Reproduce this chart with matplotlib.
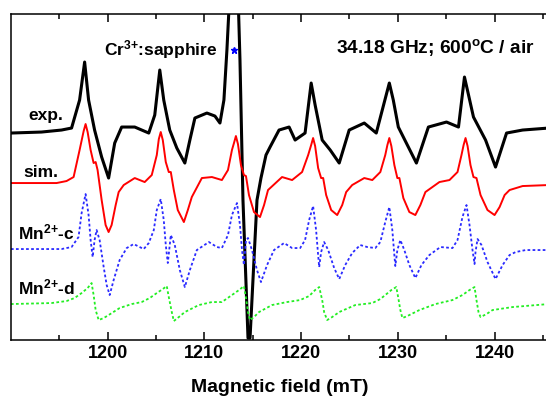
import numpy as np
import matplotlib
matplotlib.use('Agg')
from matplotlib import pyplot as plt

plt.rcParams['font.family'] = 'Liberation Sans'
plt.rcParams['font.weight'] = 'bold'
plt.rcParams['mathtext.fontset'] = 'custom'
plt.rcParams['mathtext.rm'] = 'Liberation Sans:bold'
plt.rcParams['mathtext.it'] = 'Liberation Sans:bold'
plt.rcParams['mathtext.bf'] = 'Liberation Sans:bold'

# values (field in mT, intensity in arb. units)
exp_field = [1190.0, 1193.16, 1195.23, 1196.27, 1197.10, 1197.62, 1198.03, 1198.65, 1199.38, 1200.10,
             1200.73, 1201.45, 1202.80, 1204.25, 1204.87, 1205.39, 1205.80, 1206.42, 1207.15, 1207.98,
             1208.50, 1209.02, 1210.26, 1211.09, 1211.61, 1212.02, 1212.33, 1212.64, 1213.06, 1213.47,
             1213.68, 1213.99, 1214.51, 1214.72, 1215.44, 1215.85, 1216.37, 1216.79, 1217.72, 1218.76,
             1219.38, 1220.41, 1221.04, 1221.45, 1222.18, 1223.01, 1223.94, 1224.97, 1226.53, 1227.77,
             1229.12, 1229.53, 1230.05, 1230.88, 1231.92, 1233.16, 1235.03, 1236.27, 1236.89, 1237.31,
             1237.82, 1239.07, 1240.10, 1241.24, 1242.90, 1245.60]
exp_int = [207, 208, 210, 212, 240, 278, 240, 210, 183, 162,
           197, 213, 213, 207, 225, 270, 240, 210, 192, 177,
           200, 222, 227, 224, 217, 240, 290, 350, 380, 350,
           280, 140, 2, 2, 140, 162, 185, 193, 210, 213,
           200, 207, 257, 235, 200, 190, 177, 210, 217, 207,
           257, 240, 213, 197, 177, 213, 218, 213, 263, 245,
           223, 200, 173, 207, 210, 212]

sim_field = [1190.0, 1194.72, 1195.75, 1196.48, 1197.10, 1197.52, 1197.72, 1197.93, 1198.24, 1198.55, 1198.76, 1198.96,
             1199.38, 1199.79, 1200.10, 1200.41, 1200.83, 1201.14, 1201.66, 1202.80, 1203.83, 1204.56,
             1205.08, 1205.29, 1205.49, 1205.70, 1206.01, 1206.32, 1206.53, 1206.84, 1207.25, 1207.88, 1208.29, 1208.70,
             1209.74, 1210.78, 1211.81, 1212.44, 1212.85, 1213.06, 1213.26, 1213.47, 1213.78, 1214.09, 1214.30, 1214.61,
             1215.13, 1215.75, 1216.17, 1216.58, 1218.03, 1219.07, 1220.10, 1220.73, 1221.04, 1221.24, 1221.45, 1221.76,
             1222.07, 1222.28, 1222.59, 1223.11, 1223.73, 1224.25, 1224.66, 1225.28, 1226.53, 1227.36,
             1228.19, 1228.70, 1228.92, 1229.12, 1229.33, 1229.64, 1229.95, 1230.16, 1230.57, 1231.19, 1231.81, 1232.33,
             1232.85, 1234.30, 1235.34, 1236.17, 1236.58, 1236.80, 1237.00, 1237.21, 1237.51, 1237.82, 1238.13, 1238.55,
             1239.27, 1240.00, 1240.52, 1241.04, 1241.55, 1242.90, 1245.60]
sim_int = [157, 157, 159, 163, 190, 209, 216, 208, 190, 177, 178, 170,
           140, 115, 108, 115, 135, 148, 155, 162, 158, 165,
           185, 201, 208, 200, 178, 168, 168, 150, 130, 118, 130, 143,
           162, 163, 160, 170, 190, 197, 204, 196, 175, 165, 164, 145,
           128, 123, 135, 150, 163, 160, 168, 185, 195, 202, 194, 172,
           162, 162, 145, 130, 125, 135, 148, 155, 162, 160,
           168, 185, 195, 202, 194, 175, 162, 162, 142, 128, 125, 135,
           148, 158, 160, 168, 185, 195, 202, 194, 175, 163, 162, 145,
           130, 125, 133, 145, 150, 154, 155]

mnc_field = [1190.0, 1195.23, 1196.27, 1196.99, 1197.31, 1197.72, 1198.03, 1198.24, 1198.45, 1198.65,
             1198.86, 1199.17, 1199.59, 1199.90, 1200.21, 1200.62, 1201.24, 1201.97, 1202.69, 1203.73,
             1204.25, 1204.77, 1205.08, 1205.49, 1205.80, 1206.01, 1206.22, 1206.42, 1206.53, 1206.94,
             1207.46, 1207.98, 1208.50, 1209.22, 1210.47, 1211.30, 1211.81, 1212.44, 1212.85, 1213.37,
             1213.68, 1213.89, 1214.09, 1214.30, 1214.51, 1214.92, 1215.44, 1215.85, 1216.48, 1217.20,
             1218.24, 1219.07, 1219.90, 1220.41, 1220.83, 1221.24, 1221.55, 1221.76, 1221.87, 1222.07,
             1222.38, 1222.80, 1223.42, 1223.94, 1224.56, 1225.28, 1226.11, 1226.84, 1227.67, 1228.19,
             1228.70, 1229.12, 1229.43, 1229.64, 1229.74, 1229.95, 1230.26, 1230.67, 1231.19, 1231.81,
             1232.44, 1233.26, 1234.40, 1235.65, 1236.17, 1236.68, 1237.10, 1237.41, 1237.72, 1237.93,
             1238.03, 1238.24, 1238.65, 1239.27, 1240.10, 1240.83, 1241.55, 1242.18, 1243.21, 1245.60]
mnc_int = [91, 91, 93, 103, 127, 146, 125, 100, 83, 100,
           110, 100, 73, 55, 45, 60, 80, 92, 96, 91,
           97, 110, 130, 141, 120, 95, 77, 95, 105, 95,
           70, 53, 70, 90, 98, 93, 92, 105, 125, 137,
           115, 90, 75, 100, 102, 90, 70, 58, 75, 90,
           97, 92, 92, 100, 120, 134, 110, 85, 73, 88,
           98, 90, 72, 61, 75, 87, 95, 93, 92, 98,
           118, 133, 110, 85, 74, 90, 100, 90, 75, 62,
           75, 85, 93, 92, 100, 123, 135, 115, 90, 76,
           88, 101, 95, 78, 61, 75, 85, 88, 90, 90]

mnd_field = [1190.0, 1194.20, 1195.75, 1196.58, 1197.31, 1197.93, 1198.34, 1198.55, 1198.76, 1199.07,
             1199.59, 1200.10, 1201.24, 1202.49, 1203.52, 1204.35, 1205.08, 1205.70, 1206.11, 1206.32,
             1206.63, 1206.84, 1207.36, 1207.98, 1209.43, 1210.78, 1211.81, 1212.85, 1213.58, 1214.09,
             1214.30, 1214.51, 1214.72, 1215.13, 1215.65, 1216.99, 1218.55, 1219.90, 1220.83, 1221.45,
             1221.87, 1222.18, 1222.38, 1222.69, 1223.21, 1223.94, 1225.60, 1227.36, 1228.19, 1228.70,
             1229.33, 1229.84, 1230.05, 1230.26, 1230.47, 1230.98, 1232.23, 1233.89, 1235.65, 1236.68,
             1237.41, 1237.93, 1238.13, 1238.34, 1238.55, 1239.17, 1239.79, 1241.87, 1245.60]
mnd_int = [36, 37, 39, 42, 47, 52, 57, 45, 30, 20,
           22, 25, 32, 36, 38, 42, 47, 51, 54, 43,
           28, 19, 23, 28, 35, 38, 38, 45, 50, 54,
           42, 28, 20, 23, 28, 35, 38, 40, 44, 50,
           53, 40, 28, 20, 23, 28, 35, 37, 41, 45,
           50, 53, 42, 30, 22, 24, 30, 36, 40, 45,
           50, 53, 40, 28, 23, 26, 30, 33, 36]

fig = plt.figure(figsize=(5.46, 4.01), dpi=100)
ax = fig.add_axes([0.020, 0.152, 0.985, 0.813])

ax.plot(exp_field, exp_int, color='black', lw=2.2)
ax.plot(sim_field, sim_int, color='red', lw=1.4)
ax.plot(mnc_field, mnc_int, color='#2a2aff', lw=1.3, linestyle=(0, (1.5, 1.3)))
ax.plot(mnd_field, mnd_int, color='#22ee22', lw=1.3, linestyle=(0, (1.5, 1.3)))
ax.plot([1213.06], [290], marker='*', color='blue', ms=5, ls='none')

ax.text(1191.81, 220, 'exp.', fontsize=12.5, fontweight='bold')
ax.text(1191.30, 163, 'sim.', fontsize=12.5, fontweight='bold')
ax.text(1190.78, 101, r'Mn$^{\text{2+}}$-c', fontsize=12.5, fontweight='bold')
ax.text(1190.78, 46, r'Mn$^{\text{2+}}$-d', fontsize=12.5, fontweight='bold')
ax.text(1199.59, 285, r'Cr$^{\text{3+}}$:sapphire', fontsize=12.5, fontweight='bold')
ax.text(1223.6, 287, r'34.18 GHz; 600$^{\text{o}}$C / air', fontsize=13.8, fontweight='bold')

ax.set_xlim(1190, 1245.6)
ax.set_ylim(0, 326)
ax.set_xticks([1200, 1210, 1220, 1230, 1240])
ax.set_xticks(np.arange(1195, 1246, 5), minor=True)
ax.set_yticks([])
ax.tick_params(axis='x', which='both', direction='in', top=True, labelsize=13, width=1.1)
ax.tick_params(axis='x', which='major', length=6)
ax.tick_params(axis='x', which='minor', length=3.5)
for lab in ax.get_xticklabels():
    lab.set_fontweight('bold')
ax.spines['right'].set_visible(False)
for s in ['left', 'top', 'bottom']:
    ax.spines[s].set_linewidth(1.1)
ax.set_xlabel('Magnetic field (mT)', fontsize=14, fontweight='bold', labelpad=12)

plt.savefig('out.png', dpi=100)
